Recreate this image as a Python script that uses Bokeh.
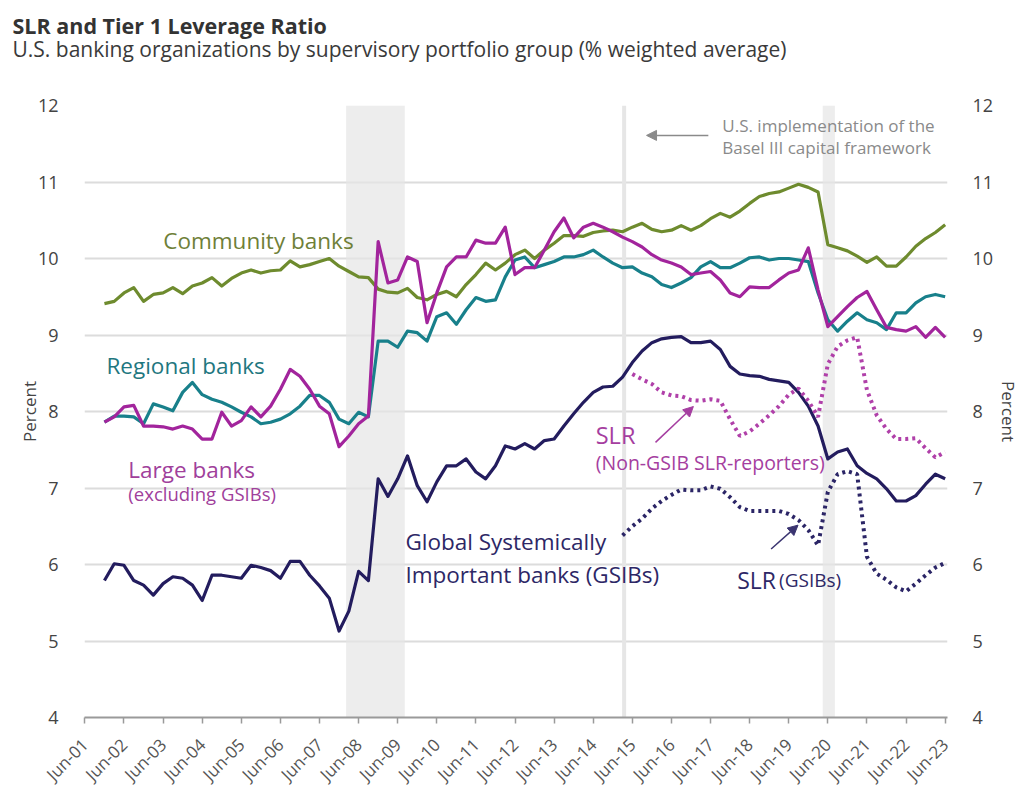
import math
import pandas as pd
from bokeh.plotting import figure
from bokeh.models import (LinearAxis, FixedTicker, Label, Arrow, NormalHead,
                          BoxAnnotation, Span, Range1d, Title)
from bokeh.embed import file_html
from bokeh.resources import INLINE

# ---------------- data (quarterly, Dec-01 .. Jun-23) ----------------
quarters = pd.period_range("2001Q4", "2023Q2", freq="Q")
qx = [q.year + q.quarter * 0.25 for q in quarters]

community = [9.41, 9.44, 9.55, 9.62, 9.44, 9.53, 9.55, 9.62, 9.54, 9.64,
             9.68, 9.75, 9.64, 9.74, 9.81, 9.85, 9.81, 9.84, 9.85, 9.97,
             9.89, 9.92, 9.96, 10.00, 9.90, 9.83, 9.76, 9.75, 9.60, 9.56,
             9.55, 9.61, 9.49, 9.46, 9.53, 9.57, 9.50, 9.66, 9.79, 9.94,
             9.85, 9.94, 10.05, 10.11, 10.00, 10.11, 10.20, 10.30, 10.30, 10.29,
             10.34, 10.36, 10.37, 10.35, 10.41, 10.46, 10.38, 10.35, 10.37, 10.43,
             10.37, 10.43, 10.52, 10.59, 10.54, 10.62, 10.72, 10.81, 10.85, 10.87,
             10.92, 10.97, 10.93, 10.87, 10.18, 10.14, 10.10, 10.03, 9.95, 10.02,
             9.90, 9.90, 10.02, 10.16, 10.26, 10.34, 10.44]

regional = [7.86, 7.94, 7.94, 7.93, 7.84, 8.10, 8.06, 8.01, 8.25, 8.38,
            8.22, 8.16, 8.12, 8.06, 7.99, 7.93, 7.84, 7.86, 7.90, 7.97,
            8.07, 8.21, 8.21, 8.12, 7.90, 7.84, 7.99, 7.93, 8.92, 8.92,
            8.84, 9.05, 9.03, 8.92, 9.24, 9.29, 9.14, 9.33, 9.49, 9.44,
            9.46, 9.76, 9.98, 10.02, 9.88, 9.92, 9.96, 10.02, 10.02, 10.05,
            10.11, 10.02, 9.94, 9.88, 9.89, 9.81, 9.76, 9.66, 9.62, 9.68,
            9.75, 9.89, 9.96, 9.88, 9.88, 9.94, 10.01, 10.02, 9.98, 10.00,
            10.00, 9.98, 9.96, 9.55, 9.20, 9.05, 9.18, 9.29, 9.20, 9.16,
            9.07, 9.29, 9.29, 9.42, 9.50, 9.53, 9.50]

large = [7.86, 7.93, 8.06, 8.08, 7.81, 7.81, 7.80, 7.77, 7.81, 7.77,
         7.64, 7.64, 7.99, 7.81, 7.88, 8.06, 7.93, 8.07, 8.29, 8.55,
         8.46, 8.29, 8.07, 7.97, 7.54, 7.68, 7.84, 7.94, 10.22, 9.68,
         9.72, 10.02, 9.96, 9.16, 9.55, 9.89, 10.02, 10.02, 10.24, 10.20,
         10.20, 10.41, 9.79, 9.88, 9.88, 10.11, 10.35, 10.53, 10.27, 10.41,
         10.46, 10.41, 10.35, 10.28, 10.22, 10.15, 10.05, 9.98, 9.94, 9.89,
         9.79, 9.81, 9.83, 9.72, 9.55, 9.50, 9.63, 9.62, 9.62, 9.72,
         9.81, 9.85, 10.14, 9.59, 9.11, 9.24, 9.37, 9.49, 9.57, 9.33,
         9.10, 9.07, 9.05, 9.11, 8.97, 9.10, 8.97]

gsib = [5.79, 6.01, 5.99, 5.79, 5.73, 5.60, 5.75, 5.84, 5.82, 5.73,
        5.53, 5.86, 5.86, 5.84, 5.82, 5.99, 5.96, 5.92, 5.82, 6.04,
        6.04, 5.86, 5.72, 5.56, 5.13, 5.39, 5.91, 5.79, 7.12, 6.89,
        7.12, 7.42, 7.03, 6.82, 7.08, 7.29, 7.29, 7.38, 7.21, 7.12,
        7.29, 7.55, 7.51, 7.58, 7.51, 7.62, 7.64, 7.81, 7.97, 8.12,
        8.25, 8.32, 8.33, 8.45, 8.64, 8.79, 8.90, 8.95, 8.97, 8.98,
        8.90, 8.90, 8.92, 8.81, 8.59, 8.49, 8.47, 8.46, 8.42, 8.40,
        8.38, 8.25, 8.07, 7.81, 7.38, 7.47, 7.51, 7.29, 7.19, 7.12,
        6.99, 6.83, 6.83, 6.90, 7.05, 7.18, 7.12]

# SLR series (start later)
slr_nongsib_start = "2015Q2"
slr_nongsib = [8.49, 8.42, 8.36, 8.25, 8.21, 8.20, 8.15, 8.14, 8.16, 8.14,
               7.90, 7.68, 7.74, 7.84, 7.95, 8.07, 8.22, 8.30, 8.14, 7.93,
               8.62, 8.85, 8.93, 8.97, 8.28, 7.95, 7.77, 7.64, 7.64, 7.65,
               7.52, 7.40, 7.47]

slr_gsib_start = "2015Q1"
slr_gsib = [6.38, 6.50, 6.60, 6.73, 6.83, 6.91, 6.98, 6.97, 6.97, 7.02,
            6.99, 6.88, 6.75, 6.70, 6.70, 6.70, 6.70, 6.66, 6.58, 6.45,
            6.25, 6.95, 7.18, 7.22, 7.18, 6.10, 5.88, 5.80, 5.70, 5.65,
            5.75, 5.86, 5.96, 6.02]

tick_x = [2001.5 + k for k in range(23)]
tick_labels = ["Jun-%02d" % (k + 1) for k in range(23)]
y_ticks = [4, 5, 6, 7, 8, 9, 10, 11, 12]

# shaded periods / event line (decimal years)
recessions = [(2008.18, 2009.68), (2020.37, 2020.68)]
basel_line = 2015.29

# ---------------- figure ----------------
FONT = "Open Sans"
W, H = 1023, 796
X0, X1 = 2001.49, 2023.56
FL, FT, FR, FB = 84, 105, 950, 719     # frame edges (page pixels)

p = figure(width=W, height=H, output_backend="svg", toolbar_location=None,
           title="SLR and Tier 1 Leverage Ratio",
           x_range=Range1d(X0, X1), y_range=Range1d(4, 12),
           min_border_left=FL, min_border_right=W - FR, min_border_top=FT,
           min_border_bottom=H - FB, outline_line_color=None,
           background_fill_color="white", border_fill_color="white")

def X(px):
    return X0 + (px - FL) * (X1 - X0) / float(FR - FL)

def Y(py):
    return 12 - (py - FT) * 8.0 / float(FB - FT)

# titles (spacer panel keeps the two title lines near the top of the page)
spacer = Title(text=" ", text_font=FONT, text_font_size="20px", standoff=14)
p.add_layout(spacer, "above")
sub = Title(text="U.S. banking organizations by supervisory portfolio group (% weighted average)",
            align="left", offset=12 - FL, text_font=FONT, text_font_size="21px",
            text_font_style="normal", text_color="#3a3a3a", standoff=0)
p.add_layout(sub, "above")
p.title.align = "left"
p.title.offset = 12 - FL
p.title.text_font = FONT
p.title.text_font_size = "21.5px"
p.title.text_font_style = "bold"
p.title.text_color = "#333333"
p.title.standoff = -14

# axes
p.xaxis.ticker = FixedTicker(ticks=tick_x)
p.xaxis.major_label_overrides = {t: l for t, l in zip(tick_x, tick_labels)}
p.xaxis.major_label_orientation = math.pi / 4
p.xaxis.axis_line_color = "#9a9a9a"
p.xaxis.axis_line_width = 2
p.xaxis.major_tick_line_color = "#9a9a9a"
p.xaxis.major_tick_line_width = 1.5
p.xaxis.major_tick_out = 6
p.xaxis.major_tick_in = 0
p.xaxis.minor_tick_line_color = None
p.xaxis.major_label_standoff = 18
p.xaxis.major_label_text_font = FONT
p.xaxis.major_label_text_font_size = "17px"
p.xaxis.major_label_text_color = "#555555"

p.yaxis.ticker = FixedTicker(ticks=y_ticks)
ra = LinearAxis(ticker=FixedTicker(ticks=y_ticks))
p.add_layout(ra, "right")
for ax, so, ls in ((p.yaxis[0], 26, -6), (ra, 25, 1)):
    ax.axis_line_color = None
    ax.major_tick_line_color = None
    ax.minor_tick_line_color = None
    ax.major_tick_out = 0
    ax.major_tick_in = 0
    ax.minor_tick_out = 0
    ax.minor_tick_in = 0
    ax.major_label_standoff = so
    ax.major_label_text_font = FONT
    ax.major_label_text_font_size = "18px"
    ax.major_label_text_color = "#444444"
    ax.axis_label = "Percent"
    ax.axis_label_standoff = ls
    ax.axis_label_text_font = FONT
    ax.axis_label_text_font_size = "17px"
    ax.axis_label_text_font_style = "normal"
    ax.axis_label_text_color = "#444444"

p.xgrid.visible = False
p.ygrid.grid_line_color = "#dcdcdc"
p.ygrid.grid_line_width = 2

# shading
for a, b in recessions:
    p.add_layout(BoxAnnotation(left=a, right=b, fill_color="#e6e6e6",
                               fill_alpha=0.7, line_color=None, level="underlay"))
p.add_layout(Span(location=basel_line, dimension="height", line_color="#e6e6e6",
                  line_width=4, level="underlay"))

# series
C_COM, C_REG, C_LRG, C_GS = "#6e8b2e", "#18808b", "#a2249c", "#231c5e"
p.line(qx, regional, line_color=C_REG, line_width=3.2, line_join="round")
p.line(qx, community, line_color=C_COM, line_width=3.2, line_join="round")
p.line(qx, large, line_color=C_LRG, line_width=3.2, line_join="round")
p.line(qx, gsib, line_color=C_GS, line_width=3.2, line_join="round")

qs = list(quarters.astype(str))
i_ng = qs.index(slr_nongsib_start)
i_g = qs.index(slr_gsib_start)
p.line(qx[i_ng:], slr_nongsib, line_color="#b040a9", line_width=4, line_dash="3 4")
p.line(qx[i_g:], slr_gsib, line_color="#2b2566", line_width=4, line_dash="3 4")

# ---------------- in-plot text ----------------
def lab(text, px, py, size, color, style="normal", align="left",
        baseline="alphabetic", angle=0.0):
    p.add_layout(Label(x=X(px), y=Y(py), text=text, text_font=FONT,
                       text_font_size="%.1fpx" % size, text_color=color,
                       text_font_style=style, text_align=align,
                       text_baseline=baseline, angle=angle))

lab("Community banks", 163, 240, 22.5, "#6f7f38")
lab("Regional banks", 106, 366, 22.5, "#1f7780")
lab("Large banks", 128, 470, 22.5, "#a0409b")
lab("(excluding GSIBs)", 128, 494, 18.5, "#a0409b")
lab("Global Systemically", 406, 542, 22.5, "#2d2766")
lab("Important banks (GSIBs)", 406, 576, 22.5, "#2d2766")
lab("SLR", 597, 436, 23.5, "#a53ea0")
lab("(Non-GSIB SLR-reporters)", 597, 463, 19.5, "#a53ea0")
lab("SLR", 739, 581, 23, "#2d2766")
lab("(GSIBs)", 781, 581, 19, "#2d2766")
lab("U.S. implementation of the", 724, 125, 17, "#8a8a8a")
lab("Basel III capital framework", 724, 147, 17, "#8a8a8a")

def arrow(x0, y0, x1, y1, color):
    p.add_layout(Arrow(end=NormalHead(size=10, fill_color=color, line_color=color),
                       x_start=X(x0), y_start=Y(y0), x_end=X(x1), y_end=Y(y1),
                       line_color=color, line_width=1.5))

arrow(710, 135, 648, 135, "#8a8a8a")
arrow(657, 443, 695, 407, "#a53ea0")
arrow(773, 550, 800, 526, "#3a3470")

open("out.html", "w").write(file_html(p, INLINE))
